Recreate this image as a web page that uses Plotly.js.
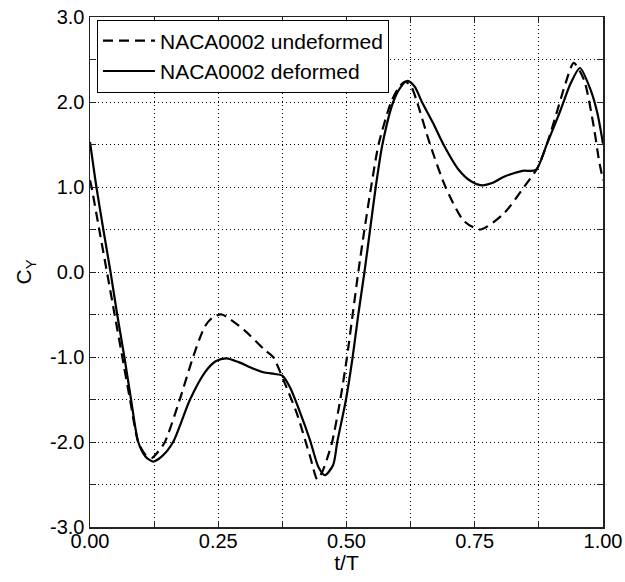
<!DOCTYPE html>
<html>
<head>
<meta charset="utf-8">
<script src="https://cdn.plot.ly/plotly-3.0.1.min.js"></script>
<style>
  html, body { margin: 0; padding: 0; background: #fff; }
  #chart { width: 625px; height: 582px; }
</style>
</head>
<body>
<div id="chart"></div>
<script>
// NACA0002 deformed (solid)
var tDeformed = [0, 0.0125, 0.026, 0.040, 0.053, 0.067, 0.080, 0.094, 0.108, 0.123, 0.14, 0.162, 0.195, 0.224, 0.245, 0.266, 0.29, 0.312, 0.338, 0.36, 0.375, 0.39, 0.41, 0.429, 0.445, 0.458, 0.474, 0.482, 0.499, 0.512, 0.523, 0.535, 0.546, 0.557, 0.570, 0.591, 0.605, 0.619, 0.633, 0.647, 0.669, 0.689, 0.719, 0.742, 0.764, 0.785, 0.807, 0.843, 0.869, 0.891, 0.917, 0.937, 0.955, 0.976, 0.989, 1.0];
var cyDeformed = [1.53, 1.0, 0.5, 0.0, -0.5, -1.0, -1.5, -2.0, -2.17, -2.23, -2.17, -2.0, -1.5, -1.18, -1.05, -1.015, -1.06, -1.12, -1.18, -1.2, -1.22, -1.36, -1.66, -1.98, -2.29, -2.39, -2.27, -2.0, -1.5, -1.0, -0.5, 0.0, 0.5, 1.0, 1.5, 2.0, 2.17, 2.25, 2.18, 2.0, 1.75, 1.5, 1.2, 1.07, 1.02, 1.05, 1.12, 1.19, 1.2, 1.51, 1.9, 2.22, 2.40, 2.14, 1.87, 1.51];

// NACA0002 undeformed (dashed)
var tUndeformed = [0, 0.003, 0.018, 0.033, 0.048, 0.063, 0.078, 0.094, 0.108, 0.12, 0.132, 0.146, 0.175, 0.201, 0.224, 0.24, 0.257, 0.30, 0.341, 0.357, 0.377, 0.403, 0.429, 0.443, 0.452, 0.462, 0.472, 0.488, 0.501, 0.512, 0.523, 0.535, 0.548, 0.5625, 0.587, 0.603, 0.615, 0.627, 0.6375, 0.663, 0.693, 0.729, 0.761, 0.807, 0.846, 0.872, 0.891, 0.911, 0.927, 0.943, 0.963, 0.982, 0.992, 1.0];
var cyUndeformed = [1.08, 1.0, 0.5, 0.0, -0.5, -1.0, -1.5, -2.0, -2.15, -2.19, -2.12, -2.0, -1.5, -1.0, -0.64, -0.53, -0.5, -0.68, -0.92, -1.0, -1.27, -1.66, -2.17, -2.44, -2.36, -2.2, -2.0, -1.5, -1.0, -0.5, 0.0, 0.5, 1.0, 1.5, 2.0, 2.18, 2.24, 2.17, 2.0, 1.5, 1.0, 0.6, 0.5, 0.69, 1.0, 1.22, 1.51, 1.9, 2.22, 2.46, 2.26, 1.71, 1.32, 1.08];

// Ticks
var xTickVals = [0, 0.125, 0.25, 0.375, 0.5, 0.625, 0.75, 0.875, 1.0];
var xTickText = ['0.00', '', '0.25', '', '0.50', '', '0.75', '', '1.00'];
var yTickVals = [-3, -2.5, -2, -1.5, -1, -0.5, 0, 0.5, 1, 1.5, 2, 2.5, 3];
var yTickText = ['-3.0', '', '-2.0', '', '-1.0', '', '0.0', '', '1.0', '', '2.0', '', '3.0'];

var seriesNames = ['NACA0002 undeformed', 'NACA0002 deformed'];

var FONT = 'Liberation Sans, Arial, Helvetica, sans-serif';

var traces = [
  {
    x: tUndeformed, y: cyUndeformed, name: seriesNames[0],
    type: 'scatter', mode: 'lines',
    line: { color: '#000', width: 2.2, dash: '10px,6px', shape: 'spline', smoothing: 0.7 }
  },
  {
    x: tDeformed, y: cyDeformed, name: seriesNames[1],
    type: 'scatter', mode: 'lines',
    line: { color: '#000', width: 2.2, shape: 'spline', smoothing: 0.7 }
  }
];

var axisCommon = {
  showline: true, linecolor: '#222', linewidth: 1.5, mirror: 'ticks',
  ticks: 'inside', ticklen: 6, tickcolor: '#222', tickwidth: 1,
  showgrid: true, gridcolor: '#000', gridwidth: 1, griddash: '1px,3px',
  zeroline: false, tickmode: 'array',
  tickfont: { family: FONT, size: 20, color: '#000' }
};

var layout = {
  width: 625, height: 582,
  margin: { l: 90, r: 22, t: 17, b: 55 },
  paper_bgcolor: '#fff', plot_bgcolor: '#fff',
  font: { family: FONT, color: '#000' },
  showlegend: true,
  xaxis: Object.assign({}, axisCommon, {
    range: [0, 1], tickvals: xTickVals, ticktext: xTickText,
    ticklabelstandoff: -5,
    title: { text: 't/T', font: { family: FONT, size: 21, color: '#000' }, standoff: 2 }
  }),
  yaxis: Object.assign({}, axisCommon, {
    range: [-3, 3], tickvals: yTickVals, ticktext: yTickText,
    title: { text: 'C<sub>Y</sub>', font: { family: FONT, size: 21, color: '#000' }, standoff: 12 }
  }),
  legend: {
    x: 0.0136, y: 0.995, xanchor: 'left', yanchor: 'top',
    bgcolor: '#fff', bordercolor: '#000', borderwidth: 1,
    font: { family: FONT, size: 21, color: '#000' },
    itemwidth: 52, tracegroupgap: 0
  }
};

Plotly.newPlot('chart', traces, layout, { displayModeBar: false, staticPlot: true });
</script>
</body>
</html>
